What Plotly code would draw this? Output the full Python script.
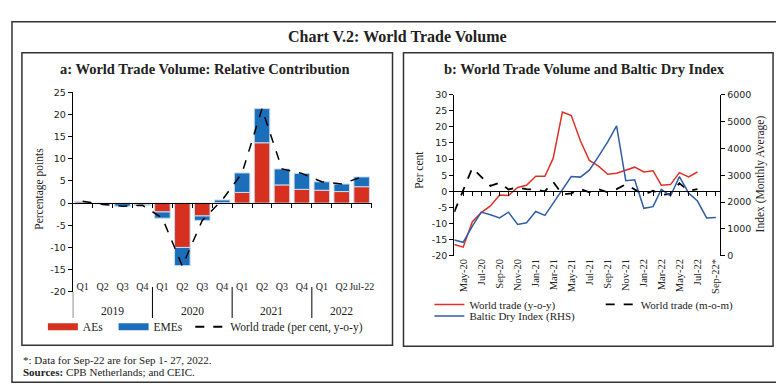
import plotly.graph_objects as go

W, H = 784, 384

# ---------------- Panel a data ----------------
years = ["2019"] * 4 + ["2020"] * 4 + ["2021"] * 4 + ["2022"] * 3
quarters = ["Q1", "Q2", "Q3", "Q4"] * 3 + ["Q1", "Q2", "Jul-22"]
aes = [0.3, -0.1, -0.1, -0.4, -2.0, -10.0, -2.9, 0.1, 2.4, 13.6, 4.1, 3.1, 2.9, 2.6, 3.7]
emes = [0.1, -0.1, -0.6, -0.1, -1.4, -4.1, -1.0, 0.6, 4.4, 7.7, 3.6, 3.6, 1.9, 1.7, 2.2]
world_yoy_q = [0.4, -0.3, -0.7, -0.5, -3.4, -14.2, -3.9, 0.7, 6.8, 21.3, 7.7, 6.7, 4.8, 4.3, 5.9]
a_yticks = [-20, -15, -10, -5, 0, 5, 10, 15, 20, 25]

# ---------------- Panel b data ----------------
months = ["2020-04", "2020-05", "2020-06", "2020-07", "2020-08", "2020-09", "2020-10",
          "2020-11", "2020-12", "2021-01", "2021-02", "2021-03", "2021-04", "2021-05",
          "2021-06", "2021-07", "2021-08", "2021-09", "2021-10", "2021-11", "2021-12",
          "2022-01", "2022-02", "2022-03", "2022-04", "2022-05", "2022-06", "2022-07",
          "2022-08", "2022-09"]
wt_yoy = [-16.5, -17.3, -9.4, -6.6, -4.5, -1.1, -1.3, 1.2, 1.9, 4.7, 4.7, 10.3, 24.6, 23.5,
          15.6, 9.6, 7.8, 5.3, 5.6, 6.6, 7.5, 6.0, 6.4, 1.9, 2.1, 5.8, 4.5, 6.0]
wt_mom = [-6.4, 0.5, 7.3, 4.5, 1.7, 2.7, 0.6, 1.2, 0.7, 0.5, 0.0, 2.9, -1.0, -0.6,
          0.7, -0.3, 0.7, -0.3, 0.7, 2.2, 0.7, -1.1, 0.2, -1.1, -0.8, 2.5, 0.2, 0.7]
bdi = [590, 506, 1110, 1627, 1530, 1410, 1627, 1170, 1230, 1650, 1506, 1952, 2434, 2950,
       2930, 3190, 3700, 4240, 4840, 2800, 2830, 1770, 1830, 2470, 2230, 2950, 2340, 2040,
       1410, 1430]
b_xtick_months = ["2020-05", "2020-07", "2020-09", "2020-11", "2021-01", "2021-03", "2021-05",
                  "2021-07", "2021-09", "2021-11", "2022-01", "2022-03", "2022-05", "2022-07",
                  "2022-09"]
b_xtick_labels = ["May-20", "Jul-20", "Sep-20", "Nov-20", "Jan-21", "Mar-21", "May-21",
                  "Jul-21", "Sep-21", "Nov-21", "Jan-22", "Mar-22", "May-22", "Jul-22",
                  "Sep-22*"]
b_yticks = [-20, -15, -10, -5, 0, 5, 10, 15, 20, 25, 30]
bdi_ticks = [0, 1000, 2000, 3000, 4000, 5000, 6000]

# ---------------- styling ----------------
RED_BAR = "#D7301F"
BLUE_BAR = "#1B6FBA"
RED_LINE = "#E03128"
BLUE_LINE = "#2F5DA6"
TXT = "#222222"
SERIF = "Liberation Serif"
SANS = "DejaVu Sans"


def fx(px):
    return px / W


def fy(px):
    return 1 - px / H


# plot-area geometry (pixels)
a_x0, a_x1, a_ytop, a_ybot = 65, 365, 80.5, 286
b_x0, b_x1, b_ytop, b_ybot = 448, 715, 83, 249

a_ydom = [fy(a_ybot), fy(a_ytop)]
b_ydom = [fy(b_ybot), fy(b_ytop)]
a_zero = a_ydom[0] + (0 - a_yticks[0]) / (a_yticks[-1] - a_yticks[0]) * (a_ydom[1] - a_ydom[0])
b_zero = b_ydom[0] + (0 - b_yticks[0]) / (b_yticks[-1] - b_yticks[0]) * (b_ydom[1] - b_ydom[0])

n = len(quarters)
idx = list(range(n))
a_range = [-0.5, n - 0.5]

fig = go.Figure()

bar_line = dict(color="#C9DDF0", width=1)
fig.add_trace(go.Bar(x=idx, y=aes, marker=dict(color=RED_BAR, line=bar_line),
                     xaxis="x", yaxis="y", showlegend=False, hoverinfo="skip"))
fig.add_trace(go.Bar(x=idx, y=emes, marker=dict(color=BLUE_BAR, line=bar_line),
                     xaxis="x", yaxis="y", showlegend=False, hoverinfo="skip"))
fig.add_trace(go.Scatter(x=idx, y=world_yoy_q, mode="lines",
                         line=dict(color="black", width=1.5, dash="dash"),
                         xaxis="x", yaxis="y", showlegend=False))
fig.add_trace(go.Scatter(x=[None], y=[None], xaxis="x2", yaxis="y", showlegend=False))

# legend entries panel a
fig.add_trace(go.Scatter(x=[None], y=[None], mode="lines", name="AEs",
                         line=dict(color=RED_BAR, width=7), legend="legend"))
fig.add_trace(go.Scatter(x=[None], y=[None], mode="lines", name="EMEs",
                         line=dict(color=BLUE_BAR, width=7), legend="legend4"))
fig.add_trace(go.Scatter(x=[None], y=[None], mode="lines", name="World trade (per cent, y-o-y)",
                         line=dict(color="black", width=2, dash="dash"), legend="legend5"))

# panel b
fig.add_trace(go.Scatter(x=months[:len(wt_yoy)], y=wt_yoy, mode="lines", name="World trade (y-o-y)",
                         line=dict(color=RED_LINE, width=1.5), xaxis="x3", yaxis="y3",
                         legend="legend2"))
fig.add_trace(go.Scatter(x=months[:len(wt_mom)], y=wt_mom, mode="lines", name="World trade (m-o-m)",
                         line=dict(color="black", width=1.8, dash="dash"), xaxis="x3", yaxis="y3",
                         legend="legend6"))
fig.add_trace(go.Scatter(x=months, y=bdi, mode="lines", name="Baltic Dry Index (RHS)",
                         line=dict(color=BLUE_LINE, width=1.5), xaxis="x3", yaxis="y4",
                         legend="legend3"))
fig.add_trace(go.Scatter(x=[None], y=[None], xaxis="x4", yaxis="y3", showlegend=False))

tickfont_sans = dict(family=SANS, size=9.5, color=TXT)


def leg(text_x, y_center, size=11.5):
    # legend text starts ~50px right of the legend's left edge
    return dict(orientation="h", x=fx(text_x - 50), y=fy(y_center), xanchor="left",
                yanchor="middle", font=dict(family=SERIF, size=size, color=TXT),
                bgcolor="rgba(0,0,0,0)")


layout = dict(
    width=W, height=H, margin=dict(l=0, r=0, t=0, b=0),
    paper_bgcolor="white", plot_bgcolor="rgba(0,0,0,0)",
    barmode="relative", bargap=0.22,
    showlegend=True,
    # ---- panel a axes ----
    xaxis=dict(domain=[fx(a_x0), fx(a_x1)], anchor="free", position=fy(273),
               range=a_range, tickvals=idx, ticktext=quarters, tickangle=0,
               showline=False, ticks="", showgrid=False, zeroline=False,
               tickfont=dict(family=SERIF, size=10, color=TXT)),
    xaxis2=dict(overlaying="x", anchor="free", position=a_zero, range=a_range,
                tickvals=[i + 0.5 for i in idx],
                showticklabels=False, ticks="outside", ticklen=4, tickcolor="black",
                showline=True, linecolor="black", linewidth=1, showgrid=False,
                zeroline=False),
    yaxis=dict(domain=a_ydom, anchor="x", range=[a_yticks[0], a_yticks[-1]],
               tickvals=a_yticks, ticktext=[str(v) for v in a_yticks],
               ticks="outside", ticklen=4, tickcolor="black", showline=True,
               linecolor="black", linewidth=1, showgrid=False, zeroline=False,
               tickfont=tickfont_sans),
    # ---- panel b axes ----
    xaxis3=dict(type="date", domain=[fx(b_x0), fx(b_x1)], anchor="y3",
                range=["2020-04-01", "2022-09-16"], tickvals=b_xtick_months,
                ticktext=b_xtick_labels, tickangle=-90, showline=False, ticks="",
                showgrid=False, zeroline=False,
                tickfont=dict(family=SERIF, size=10.5, color=TXT)),
    xaxis4=dict(type="date", overlaying="x3", anchor="free", position=b_zero,
                range=["2020-04-01", "2022-09-16"], tickvals=months[1:],
                showticklabels=False, ticks="outside", ticklen=4, tickcolor="black",
                showline=True, linecolor="black", linewidth=1, showgrid=False,
                zeroline=False),
    yaxis3=dict(domain=b_ydom, anchor="x3", range=[b_yticks[0], b_yticks[-1]],
                tickvals=b_yticks, ticktext=[str(v) for v in b_yticks],
                ticks="outside", ticklen=4, tickcolor="black", showline=True,
                linecolor="black", linewidth=1, showgrid=False, zeroline=False,
                tickfont=tickfont_sans),
    yaxis4=dict(overlaying="y3", anchor="x3", side="right",
                range=[bdi_ticks[0], bdi_ticks[-1]], tickvals=bdi_ticks,
                ticks="outside", ticklen=4, tickcolor="black", showline=True,
                linecolor="black", linewidth=1, showgrid=False, zeroline=False,
                tickfont=tickfont_sans),
    legend=leg(85, 322),
    legend4=leg(156, 322),
    legend5=leg(233, 322),
    legend2=leg(473, 299, 11),
    legend6=leg(645, 299, 11),
    legend3=leg(473, 311, 11),
)
fig.update_layout(**layout)

box = dict(color="#333333", width=1.5)
shapes = [
    dict(type="rect", xref="paper", yref="paper", x0=fx(4), x1=fx(778), y0=fy(379), y1=fy(8), line=box),
    dict(type="rect", xref="paper", yref="paper", x0=fx(14), x1=fx(386), y0=fy(341), y1=fy(40), line=box),
    dict(type="rect", xref="paper", yref="paper", x0=fx(397), x1=fx(768), y0=fy(342), y1=fy(40), line=box),
]

# year group labels and dividers for panel a
ann = []
group_names = []
for y_ in years:
    if y_ not in group_names:
        group_names.append(y_)
for g in group_names:
    members = [i for i, y_ in enumerate(years) if y_ == g]
    ann.append(dict(text=g, x=sum(members) / len(members), y=fy(306), xref="x", yref="paper",
                    showarrow=False, xanchor="center", yanchor="middle",
                    font=dict(family=SERIF, size=11.5, color=TXT)))
    x_left = members[0] - 0.5
    y_top = fy(281) if x_left > a_range[0] else fy(286)
    shapes.append(dict(type="line", xref="x", yref="paper", x0=x_left, x1=x_left,
                       y0=y_top, y1=fy(313), line=dict(color="black", width=1)))
fig.update_layout(shapes=shapes)

ann.append(dict(text="<b>Chart V.2: World Trade Volume</b>", x=fx(391), y=fy(23), xref="paper", yref="paper",
                showarrow=False, xanchor="center", yanchor="middle",
                font=dict(family=SERIF, size=16, color=TXT)))
ann.append(dict(text="<b>a: World Trade Volume: Relative Contribution</b>", x=fx(198), y=fy(57),
                xref="paper", yref="paper", showarrow=False, xanchor="center", yanchor="middle",
                font=dict(family=SERIF, size=14.5, color=TXT)))
ann.append(dict(text="<b>b: World Trade Volume and Baltic Dry Index</b>", x=fx(579), y=fy(57),
                xref="paper", yref="paper", showarrow=False, xanchor="center", yanchor="middle",
                font=dict(family=SERIF, size=14.5, color=TXT)))
ann.append(dict(text="Percentage points", x=fx(32), y=fy(180), xref="paper", yref="paper",
                showarrow=False, textangle=-90, xanchor="center", yanchor="middle",
                font=dict(family=SERIF, size=11.5, color=TXT)))
ann.append(dict(text="Per cent", x=fx(413), y=fy(160), xref="paper", yref="paper",
                showarrow=False, textangle=-90, xanchor="center", yanchor="middle",
                font=dict(family=SERIF, size=11.5, color=TXT)))
ann.append(dict(text="Index (Monthly Average)", x=fx(755), y=fy(165), xref="paper", yref="paper",
                showarrow=False, textangle=-90, xanchor="center", yanchor="middle",
                font=dict(family=SERIF, size=11.5, color=TXT)))
ann.append(dict(text="*: Data for Sep-22 are for Sep 1- 27, 2022.", x=fx(13), y=fy(356),
                xref="paper", yref="paper", showarrow=False, xanchor="left", yanchor="middle",
                font=dict(family=SERIF, size=11, color=TXT)))
ann.append(dict(text="<b>Sources:</b> CPB Netherlands; and CEIC.", x=fx(13), y=fy(369),
                xref="paper", yref="paper", showarrow=False, xanchor="left", yanchor="middle",
                font=dict(family=SERIF, size=11, color=TXT)))
fig.update_layout(annotations=ann)

fig.write_html("out.html")
